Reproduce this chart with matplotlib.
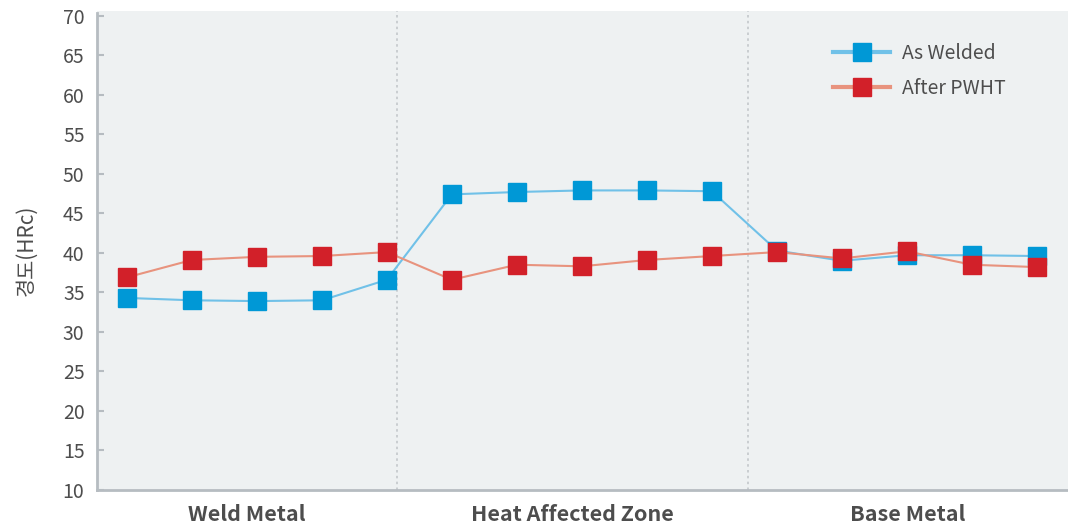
import matplotlib.pyplot as plt
from matplotlib.lines import Line2D

# hardness readings across the weld, 5 points per zone
zones = ['Weld Metal', 'Heat Affected Zone', 'Base Metal']
as_welded = [34.3, 34.0, 33.9, 34.0, 36.6,
             47.4, 47.7, 47.9, 47.9, 47.8,
             40.3, 39.0, 39.7, 39.7, 39.6]
after_pwht = [36.9, 39.1, 39.5, 39.6, 40.1,
              36.6, 38.5, 38.3, 39.1, 39.6,
              40.1, 39.3, 40.2, 38.5, 38.2]
yticks = list(range(10, 75, 5))

plt.rcParams['font.family'] = ['Noto Sans CJK KR', 'DejaVu Sans']

blue_line, blue_mark = '#70c1e8', '#0098d6'
red_line, red_mark = '#e8937e', '#d22029'
grid_grey = '#b6bcc1'
text_grey = '#4d4d4d'

fig = plt.figure(figsize=(10.68, 5.28), dpi=100)
ax = fig.add_axes([97 / 1068, 38 / 528, 1 - 97 / 1068, 479 / 528])
ax.set_facecolor('#eef1f2')

x = list(range(len(as_welded)))
ax.plot(x, as_welded, color=blue_line, lw=1.5, marker='s', ms=13.5,
        mfc=blue_mark, mec=blue_mark, zorder=3)
ax.plot(x, after_pwht, color=red_line, lw=1.5, marker='s', ms=13.5,
        mfc=red_mark, mec=red_mark, zorder=4)

# zone boundaries
for b in (4.15, 9.55):
    ax.axvline(b, color='#c3c7cb', lw=1.2, ls=(0, (1.5, 2)), zorder=1)

ax.set_xlim(-0.46, 14.48)
ax.set_ylim(10, 70.6)
ax.set_yticks(yticks)
ax.tick_params(axis='y', direction='in', length=5, width=1.5, color=grid_grey,
               labelsize=14, labelcolor=text_grey, pad=9)

centers = [1.85, 6.85, 12.02]
ax.set_xticks(centers)
ax.set_xticklabels(zones, fontsize=15.5, fontweight='bold', color=text_grey)
ax.tick_params(axis='x', length=0, pad=10)

for s in ('top', 'right'):
    ax.spines[s].set_visible(False)
for s in ('left', 'bottom'):
    ax.spines[s].set_color(grid_grey)
    ax.spines[s].set_linewidth(2)
ax.spines['left'].set_bounds(10, 70.4)

ax.set_ylabel('경도(HRc)', fontsize=15, color=text_grey, labelpad=18)

handles = [
    Line2D([], [], color=blue_line, lw=3, marker='s', ms=13.5,
           mfc=blue_mark, mec=blue_mark),
    Line2D([], [], color=red_line, lw=3, marker='s', ms=13.5,
           mfc=red_mark, mec=red_mark),
]
fig.legend(handles, ['As Welded', 'After PWHT'], loc='upper left',
           bbox_to_anchor=(833 / 1068, 1 - 43 / 528), frameon=False,
           fontsize=14, handlelength=2.95, handletextpad=0.6,
           labelspacing=0.7, borderpad=0, borderaxespad=0,
           labelcolor=text_grey)

fig.savefig('out.png', dpi=100, facecolor='white')
